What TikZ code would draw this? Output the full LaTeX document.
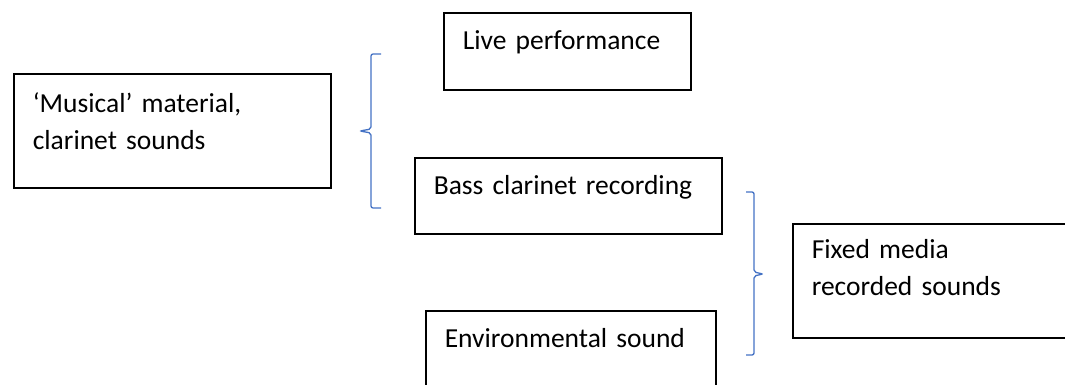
\documentclass[tikz,border=0pt]{standalone}
\usepackage{fontspec}
\setmainfont{Carlito}
\definecolor{bracebl}{HTML}{4472C4}
\begin{document}
\begin{tikzpicture}[x=1pt,y=-1pt,
  box/.style={draw,line width=1.6pt,anchor=north west,inner xsep=19pt,inner ysep=0pt,
    align=left,font=\fontsize{27.5}{36.5}\selectfont},
  curly/.style={draw=bracebl,line width=1.3pt,rounded corners=2pt}]

\useasboundingbox (0,0) rectangle (1065,385);

\node [box,text width=279pt,text height=39pt,text depth=75pt] (musical) at (13,73) {`Musical' material,\\clarinet sounds};
\node [box,text width=209pt,text height=37pt,text depth=40pt] (live) at (443,12) {Live performance};
\node [box,text width=269pt,text height=37pt,text depth=39pt] (bass) at (414,157) {Bass clarinet recording};
\node [box,text width=252pt,text height=37pt,text depth=50pt] (env) at (425,310) {Environmental sound};
\node [box,text width=240pt,text height=35pt,text depth=79pt] (fixed) at (792,223) {Fixed media\\recorded sounds};

% braces
\coordinate (ltop) at (381,54);
\coordinate (ltip) at (360,131);
\coordinate (lbot) at (381,208);
\coordinate (rtop) at (746,192);
\coordinate (rtip) at (763,274);
\coordinate (rbot) at (746,355);
\draw [curly] (ltop) -- (371,54) -- (371,129) -- (ltip) -- (371,133) -- (371,208) -- (lbot);
\draw [curly] (rtop) -- (754,192) -- (754,272) -- (rtip) -- (754,276) -- (754,355) -- (rbot);

\end{tikzpicture}
\end{document}
